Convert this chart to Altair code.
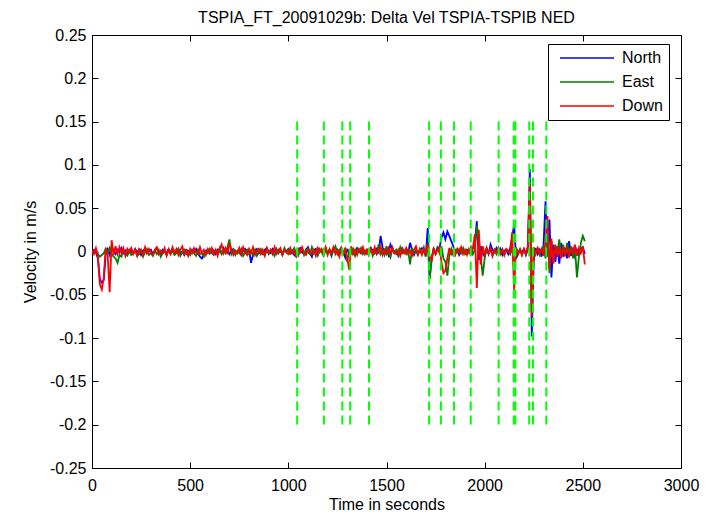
import altair as alt
import pandas as pd

# ---------------- data ----------------
series_names = ["North", "East", "Down"]
series_colors = ["#0000ff", "#008000", "#ff0000"]
time_step_s = 10  # samples every 10 s, starting at t = 0

# delta velocity in milli-m/s
north_milli = [
    0, 2, -1, -8, -32, -36, -33, -2, 3, -4, 6, 1, -3, 2, -1, 4, -2, 1, -3, 2,
    0, -2, 3, -1, 2, -4, 1, 3, -2, 0, 2, -3, 1, 4, -1, -3, 2, 0, -2, 3,
    -1, 2, -3, 1, 3, -2, 0, -4, 2, 1, -3, 2, -1, 3, -2, -6, -8, -3, 1, 2,
    -2, 3, 1, -3, 2, 0, -2, 4, -1, 2, -3, 1, 3, -2, 0, 2, -4, 1, 3, -1,
    2, -13, -4, 1, 3, -2, 0, -3, 2, 4, -1, -2, 3, 0, -3, 2, 1, -4, 2, 0,
    3, -2, 1, -4, -6, 2, 4, -1, -3, 2, 5, -2, -6, 1, 3, -4, 2, 0, -3, 4,
    -2, 1, -5, 3, -1, 2, -3, 4, 0, -7, 2, -1, 3, -3, -2, 4, 1, -2, 3, -1,
    2, -3, 4, 1, -2, 3, -1, 18, 5, -3, 2, -4, 8, 3, -2, 1, -5, 2, 4, -1,
    3, -2, 10, 2, -4, 1, -3, 2, 4, 0, -5, 27, -30, -8, 3, -2, 5, 4, 16, 22,
    14, 23, 18, 12, 6, -3, 2, -4, 1, 3, -2, 2, 0, -3, 4, 8, 35, -10, 6, -2,
    -6, 3, -3, 8, 2, -1, 4, -2, 3, -4, 1, 2, -3, 4, 16, 31, -8, -3, 2, -1,
    3, -4, 2, 95, -98, -10, 4, -3, 2, -6, 8, 58, -6, 37, -30, 8, -12, 6, -14, 10,
    -6, 4, -8, 12, -5, 3, -6, 2, -4, 3, 5, -3,
]
east_milli = [
    1, -1, 2, -3, -6, -4, -2, 3, -2, 4, -3, -6, -8, -13, -4, -6, 2, -3, -5, 1,
    -4, -2, 1, -5, -3, 2, -6, -1, 3, -4, -2, -5, 1, -3, 2, -6, -2, 0, -4, 2,
    -3, 1, -4, -2, 3, -5, -1, 2, -3, 0, -4, 1, -2, -5, 2, -3, -1, -6, 0, -2,
    3, -2, -4, 1, -1, 4, -3, 2, -2, 5, 14, -3, 2, -4, 1, -2, 3, -5, -1, 2,
    -3, 1, -4, 2, -5, 0, 3, -2, -4, 1, -3, 2, -1, -5, 3, -2, 1, -3, 4, -1,
    2, -3, -1, 4, -2, -5, 1, 3, -4, 2, -1, -3, 5, -2, 1, -4, 3, -1, -5, 2,
    -2, 3, -4, 1, 6, -3, 2, -1, -3, 4, -12, 1, -2, 3, -5, 2, -1, 4, -3, 1,
    -3, 2, 4, -5, 1, -2, 8, -3, 2, -4, 6, -2, -7, 3, -1, 2, -4, 5, -2, 1,
    -3, 2, -15, 4, -2, 1, -4, 3, -2, 5, -6, 10, -32, -8, 2, -3, 4, -2, 6, -8,
    -12, -28, -5, 3, -4, 2, -1, 3, -2, 4, -3, 1, -2, 5, -3, 2, 30, 12, -6, -28,
    -8, 4, -2, 3, -5, 2, -3, 4, -1, 3, -4, 2, 1, -3, 6, -20, 4, -2, 3, -4,
    2, -3, 5, 70, -70, 4, -2, 3, -4, 2, 6, -8, 20, -25, 12, -10, 6, -4, 14, -6,
    8, -5, 10, -3, 6, -8, 4, -30, -6, 10, 18, 12,
]
down_milli = [
    2, -3, 4, -6, -38, -44, -30, 4, -5, -47, 13, -4, 6, -3, 5, -2, 4, -5, 3, -1,
    4, -3, 2, -5, 3, 0, -4, 5, -2, 3, -1, -4, 2, 5, -3, 1, -2, 4, -5, 2,
    -3, 5, -1, 3, -4, 2, 6, -3, 1, -5, 3, -2, 4, -1, -3, 5, -2, 2, -4, 3,
    -1, 4, -3, 2, -5, 3, 8, -2, 4, -3, 10, 2, -4, 1, -2, 4, -3, 5, -1, -4,
    3, -2, 5, -4, 1, 3, -3, 2, -5, 4, -1, 2, -3, 5, -2, 1, 4, -4, 2, -1,
    -3, 4, -2, 1, -5, 3, -1, 5, -2, -4, 3, 1, -3, 2, -5, 4, -1, 3, -2, 5,
    -4, 2, -1, 5, -3, 1, -6, 4, -2, 3, -8, -21, 6, -3, 2, -4, 3, -1, 5, -3,
    2, -4, 3, -2, 5, -3, 1, 6, -4, 2, -3, 4, -2, 5, -1, -3, 2, -5, 3, -2,
    4, -3, 1, -5, 2, 6, -3, 2, -4, 3, -2, 8, -6, -10, 4, -3, 2, 5, -12, -25,
    -22, -8, 4, -3, 2, -4, 3, -1, 5, -3, 2, -4, 3, -2, 4, 20, -42, 25, -15, 6,
    -3, 4, -2, 3, -5, 2, -1, 4, -3, 2, -4, 3, 1, -2, 22, -45, 5, -3, 2, -4,
    3, -2, 6, 79, -75, 5, -3, 4, -2, 3, -5, 12, 41, -20, 15, -14, 8, -6, 5, -8,
    6, -4, 3, -7, 5, -3, 8, -5, 4, -2, 6, -15,
]

# times of the green dashed event markers (s)
event_times = [1045, 1181, 1275, 1315, 1411, 1717, 1777, 1844, 1929,
               2071, 2148, 2156, 2227, 2246, 2314]
event_top = 0.15
event_bottom = -0.2

x_ticks = [0, 500, 1000, 1500, 2000, 2500, 3000]
y_ticks = [-0.25, -0.2, -0.15, -0.1, -0.05, 0, 0.05, 0.1, 0.15, 0.2, 0.25]

title_text = "TSPIA_FT_20091029b: Delta Vel TSPIA-TSPIB NED"

# ---------------- tables ----------------
rows = []
for name, vals in zip(series_names, [north_milli, east_milli, down_milli]):
    for i, v in enumerate(vals):
        rows.append({"t": i * time_step_s, "v": v / 1000.0, "series": name})
df = pd.DataFrame(rows)
events = pd.DataFrame({"t": event_times,
                       "y1": [event_top] * len(event_times),
                       "y2": [event_bottom] * len(event_times)})

FONT = "Liberation Sans"
FS = 16

x_scale = alt.Scale(domain=[0, 3000], nice=False, zero=False)
y_scale = alt.Scale(domain=[-0.25, 0.25], nice=False, zero=False)
color_scale = alt.Scale(domain=series_names, range=series_colors)

legend = alt.Legend(
    title=None, orient="none", legendX=456, legendY=9, direction="vertical",
    symbolType="M-5.4,0H5.4", symbolSize=100, symbolStrokeWidth=1.5,
    symbolOffset=25, labelOffset=27, labelFontSize=FS, labelFont=FONT,
    labelColor="black", padding=6, strokeColor="black", fillColor="white",
    rowPadding=8, cornerRadius=0,
)

y_label_expr = "'' + round(datum.value * 100) / 100"

# axes carrying labels and titles
x_main = alt.Axis(orient="bottom", values=x_ticks, ticks=False, domain=False,
                  grid=False, labelPadding=9, labelFlush=False, format="d",
                  title="Time in seconds", titlePadding=3)
y_main = alt.Axis(orient="left", values=y_ticks, ticks=False, domain=False,
                  grid=False, labelPadding=6, labelExpr=y_label_expr,
                  title="Velocity in m/s", titlePadding=11)
# inward tick marks on all four sides
TL = 6
x_in_bottom = alt.Axis(orient="bottom", values=x_ticks, offset=-TL, tickSize=TL,
                       labels=False, domain=False, grid=False, title=None,
                       tickColor="black")
y_in_left = alt.Axis(orient="left", values=y_ticks, offset=-TL, tickSize=TL,
                     labels=False, domain=False, grid=False, title=None,
                     tickColor="black")
x_in_top = alt.Axis(orient="top", values=x_ticks, offset=-TL, tickSize=TL,
                    labels=False, domain=False, grid=False, title=None,
                    tickColor="black")
y_in_right = alt.Axis(orient="right", values=y_ticks, offset=-TL, tickSize=TL,
                      labels=False, domain=False, grid=False, title=None,
                      tickColor="black")


def line_layer(name, xaxis, yaxis):
    return alt.Chart(df).transform_filter(alt.datum.series == name).mark_line(
        strokeWidth=1.8, clip=True
    ).encode(
        x=alt.X("t:Q", scale=x_scale, axis=xaxis),
        y=alt.Y("v:Q", scale=y_scale, axis=yaxis),
        color=alt.Color("series:N", scale=color_scale, legend=legend),
    )


north_layer = line_layer("North", x_main, y_main)
east_layer = line_layer("East", x_in_bottom, y_in_left)
down_layer = line_layer("Down", x_in_top, y_in_right)

event_layer = alt.Chart(events).mark_rule(
    color="#00ff00", strokeWidth=2, strokeDash=[9, 5]
).encode(
    x=alt.X("t:Q", scale=x_scale, axis=None),
    y=alt.Y("y1:Q", scale=y_scale, axis=None),
    y2="y2:Q",
)

chart = alt.layer(north_layer, east_layer, down_layer, event_layer).resolve_axis(
    x="independent", y="independent"
).properties(
    width=589, height=433,
    autosize=alt.AutoSizeParams(type="none"),
    padding={"left": 84, "top": 27, "right": 20, "bottom": 48},
    title=alt.TitleParams(text=title_text, font=FONT, fontSize=FS,
                          fontWeight="normal", color="black", anchor="middle",
                          frame="group", offset=1),
).configure_view(
    stroke="black", strokeWidth=1
).configure_axis(
    labelFont=FONT, titleFont=FONT, labelFontSize=FS, titleFontSize=FS,
    titleFontWeight="normal", labelColor="black", titleColor="black",
)

chart.save("out.html", embed_options={"renderer": "svg", "actions": False})
